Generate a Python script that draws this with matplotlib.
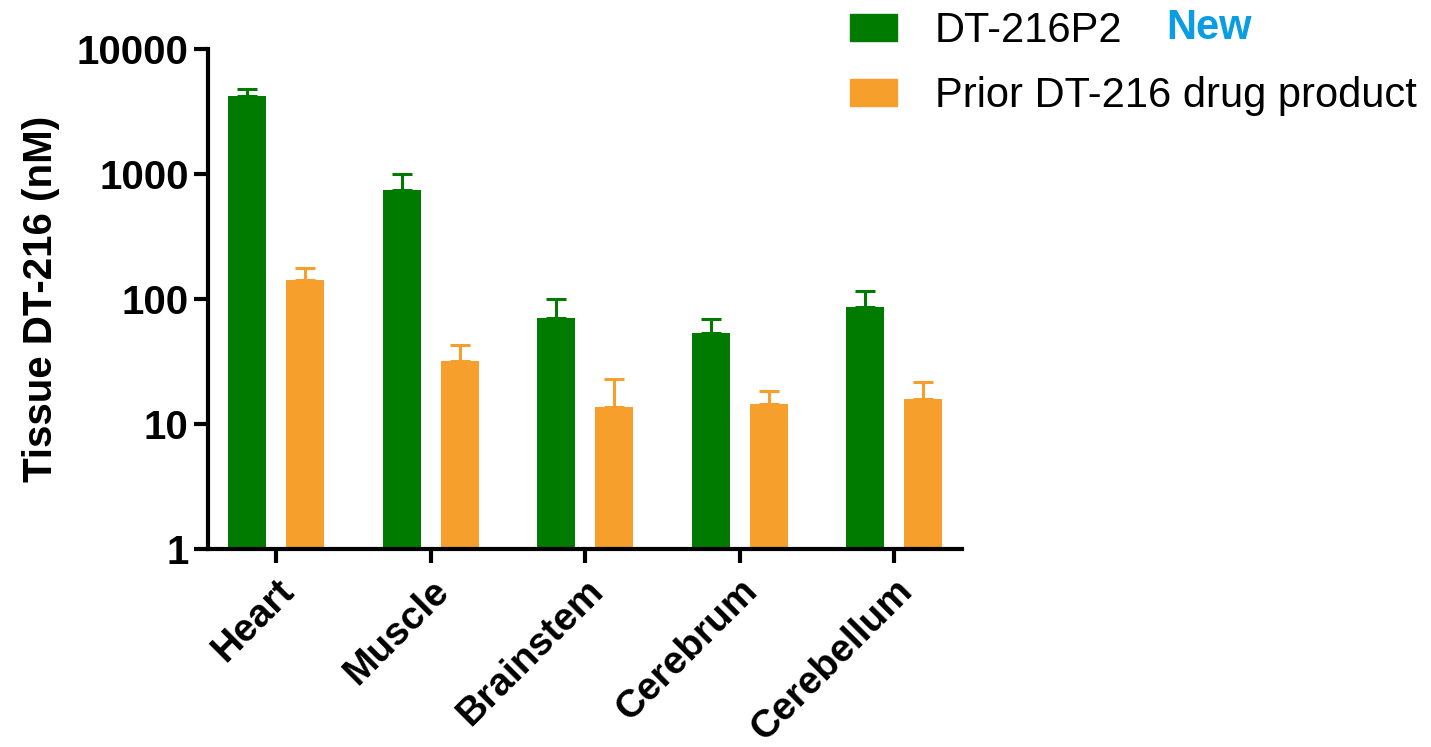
import matplotlib.pyplot as plt
import numpy as np

plt.rcParams['font.family'] = ['Liberation Sans', 'DejaVu Sans']

tissues = ['Heart', 'Muscle', 'Brainstem', 'Cerebrum', 'Cerebellum']
new_mean = [4210, 745, 71, 54, 86]
new_upper = [4790, 1000, 101, 69, 117]
prior_mean = [142, 32, 13.6, 14.5, 15.8]
prior_upper = [177, 43, 22.8, 18.4, 21.7]
yticks = [1, 10, 100, 1000, 10000]

green = '#007B00'
orange = '#F79F2D'

fig = plt.figure(figsize=(14.31, 7.47), dpi=100)
ax = fig.add_axes([0.1454, 0.265, 0.527, 0.669])

x = np.arange(len(tissues))
off = 0.188
w = 0.246

ax.bar(x - off, new_mean, width=w, color=green, zorder=2)
ax.bar(x + off, prior_mean, width=w, color=orange, zorder=2)

# upward error bars only
ax.errorbar(x - off, new_mean, yerr=[np.zeros(5), np.array(new_upper) - np.array(new_mean)],
            fmt='none', ecolor=green, elinewidth=2.2, capsize=7.5, capthick=2.2, zorder=1)
ax.errorbar(x + off, prior_mean, yerr=[np.zeros(5), np.array(prior_upper) - np.array(prior_mean)],
            fmt='none', ecolor=orange, elinewidth=2.2, capsize=7.5, capthick=2.2, zorder=1)

ax.set_yscale('log')
ax.set_ylim(1, 10000)
ax.set_xlim(-0.44, 4.44)
ax.set_yticks(yticks)
ax.set_yticklabels([str(v) for v in yticks])
ax.minorticks_off()
ax.set_xticks(x)
ax.set_xticklabels(tissues, rotation=45, ha='right', rotation_mode='anchor')

for s in ['top', 'right']:
    ax.spines[s].set_visible(False)
for s in ['left', 'bottom']:
    ax.spines[s].set_linewidth(3)
ax.tick_params(axis='both', width=3, length=10, labelsize=29, pad=4)
ax.tick_params(axis='x', labelsize=28, pad=7)
for lab in ax.get_xticklabels() + ax.get_yticklabels():
    lab.set_fontweight('bold')

ax.set_ylabel('Tissue DT-216 (nM)', fontsize=29, fontweight='bold', labelpad=12)

h1 = plt.Rectangle((0, 0), 1, 1, color=green)
h2 = plt.Rectangle((0, 0), 1, 1, color=orange)
fig.legend([h1, h2], ['DT-216P2', 'Prior DT-216 drug product'],
           loc='upper left', bbox_to_anchor=(850 / 1431, 0.985), frameon=False,
           fontsize=30, handlelength=1.13, handleheight=0.65, handletextpad=0.9,
           labelspacing=0.6, borderpad=0, borderaxespad=0)
fig.text(1166 / 1431, 1 - 28 / 747, 'New', color='#0A9DE2', fontsize=30,
         fontweight='bold', va='center', ha='left')

plt.savefig('out.png', dpi=100)
